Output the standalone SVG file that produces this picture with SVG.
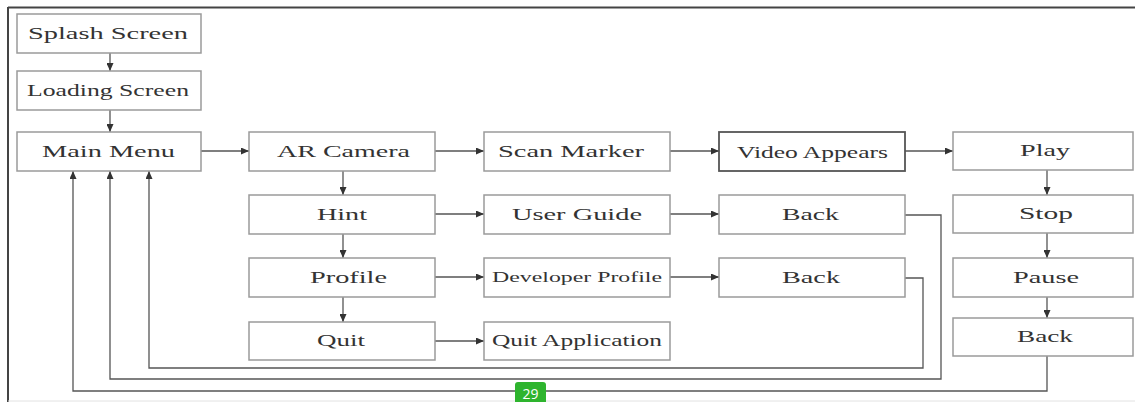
<svg xmlns="http://www.w3.org/2000/svg" width="1135" height="402" viewBox="0 0 1135 402">
<defs>
<marker id="ah" viewBox="0 0 8 7" refX="8" refY="3.5" markerWidth="8" markerHeight="7" markerUnits="userSpaceOnUse" orient="auto">
<path d="M0,0 L8,3.5 L0,7 z" fill="#333"/>
</marker>
<style>
.box{fill:#fff;stroke:#9a9a9a;stroke-width:1.5}
.dark{stroke:#555;stroke-width:1.8}
.t{font-family:"Liberation Serif","Times New Roman",serif;font-size:17px;fill:#333;text-anchor:middle}
.s{font-size:15px}
.c{fill:none;stroke:#555;stroke-width:1.3}
.a{marker-end:url(#ah)}
</style>
</defs>
<rect width="1135" height="402" fill="#fff"/>
<g id="frame">
<line x1="8" y1="7.5" x2="1135" y2="7.5" stroke="#444" stroke-width="2"/>
<line x1="8" y1="7" x2="8" y2="402" stroke="#444" stroke-width="2"/>
<line x1="8" y1="401" x2="1135" y2="401" stroke="#e2e2e2" stroke-width="1"/>
</g>
<g id="connectors">
<line class="c a" x1="110" y1="53" x2="110" y2="71"/>
<line class="c a" x1="110" y1="110" x2="110" y2="132"/>
<line class="c a" x1="201" y1="151" x2="249" y2="151"/>
<line class="c a" x1="435" y1="151" x2="484" y2="151"/>
<line class="c a" x1="670" y1="151" x2="719" y2="151"/>
<line class="c a" x1="905" y1="151" x2="953" y2="151"/>
<line class="c a" x1="343" y1="171" x2="343" y2="195"/>
<line class="c a" x1="343" y1="234" x2="343" y2="258"/>
<line class="c a" x1="343" y1="297" x2="343" y2="322"/>
<line class="c a" x1="435" y1="214" x2="484" y2="214"/>
<line class="c a" x1="670" y1="214" x2="719" y2="214"/>
<line class="c a" x1="435" y1="277" x2="484" y2="277"/>
<line class="c a" x1="670" y1="277" x2="719" y2="277"/>
<line class="c a" x1="435" y1="341" x2="484" y2="341"/>
<line class="c a" x1="1047" y1="170" x2="1047" y2="195"/>
<line class="c a" x1="1047" y1="233" x2="1047" y2="258"/>
<line class="c a" x1="1047" y1="297" x2="1047" y2="318"/>
<path class="c a" d="M905,215 H941 V379 H110 V171"/>
<path class="c a" d="M905,278 H923 V368 H149 V171"/>
<path class="c a" d="M1047,356 V391 H73 V171"/>
</g>
<g id="splash"><rect class="box" x="17" y="14" width="184" height="39"/><text class="t" x="108" y="39" textLength="160" lengthAdjust="spacingAndGlyphs">Splash Screen</text></g>
<g id="loading"><rect class="box" x="17" y="71" width="184" height="39"/><text class="t" x="108" y="96" textLength="162" lengthAdjust="spacingAndGlyphs">Loading Screen</text></g>
<g id="mainmenu"><rect class="box" x="17" y="132" width="184" height="39"/><text class="t" x="108.5" y="157" textLength="133" lengthAdjust="spacingAndGlyphs">Main Menu</text></g>
<g id="arcamera"><rect class="box" x="249" y="132" width="186" height="39"/><text class="t" x="343.5" y="157" textLength="133" lengthAdjust="spacingAndGlyphs">AR Camera</text></g>
<g id="hint"><rect class="box" x="249" y="195" width="186" height="39"/><text class="t" x="342" y="220" textLength="50" lengthAdjust="spacingAndGlyphs">Hint</text></g>
<g id="profile"><rect class="box" x="249" y="258" width="186" height="39"/><text class="t" x="348.5" y="283" textLength="77" lengthAdjust="spacingAndGlyphs">Profile</text></g>
<g id="quit"><rect class="box" x="249" y="322" width="186" height="38"/><text class="t" x="341" y="346" textLength="48" lengthAdjust="spacingAndGlyphs">Quit</text></g>
<g id="scanmarker"><rect class="box" x="484" y="132" width="186" height="39"/><text class="t" x="571" y="157" textLength="146" lengthAdjust="spacingAndGlyphs">Scan Marker</text></g>
<g id="userguide"><rect class="box" x="484" y="195" width="186" height="39"/><text class="t" x="577" y="220" textLength="130" lengthAdjust="spacingAndGlyphs">User Guide</text></g>
<g id="devprofile"><rect class="box" x="484" y="258" width="186" height="39"/><text class="t s" x="577" y="282" textLength="170" lengthAdjust="spacingAndGlyphs">Developer Profile</text></g>
<g id="quitapp"><rect class="box" x="484" y="322" width="186" height="38"/><text class="t" x="577" y="346" textLength="170" lengthAdjust="spacingAndGlyphs">Quit Application</text></g>
<g id="videoappears"><rect class="box dark" x="719" y="132" width="186" height="39"/><text class="t" x="812.5" y="158" textLength="151" lengthAdjust="spacingAndGlyphs">Video Appears</text></g>
<g id="back1"><rect class="box" x="719" y="195" width="186" height="39"/><text class="t" x="810.5" y="220" textLength="57" lengthAdjust="spacingAndGlyphs">Back</text></g>
<g id="back2"><rect class="box" x="719" y="258" width="186" height="39"/><text class="t" x="811" y="283" textLength="58" lengthAdjust="spacingAndGlyphs">Back</text></g>
<g id="play"><rect class="box" x="953" y="132" width="180" height="38"/><text class="t" x="1045" y="156" textLength="50" lengthAdjust="spacingAndGlyphs">Play</text></g>
<g id="stop"><rect class="box" x="953" y="195" width="180" height="38"/><text class="t" x="1046" y="219" textLength="54" lengthAdjust="spacingAndGlyphs">Stop</text></g>
<g id="pause"><rect class="box" x="953" y="258" width="180" height="39"/><text class="t" x="1046" y="283" textLength="66" lengthAdjust="spacingAndGlyphs">Pause</text></g>
<g id="back3"><rect class="box" x="953" y="318" width="180" height="38"/><text class="t" x="1045" y="342" textLength="56" lengthAdjust="spacingAndGlyphs">Back</text></g>
<g id="pagebadge"><rect x="515" y="382" width="31" height="24" rx="3" fill="#2eb42e"/><text x="530.5" y="399" font-family="'Open Sans','Liberation Sans',sans-serif" font-size="14" fill="#fff" text-anchor="middle">29</text></g>
</svg>
